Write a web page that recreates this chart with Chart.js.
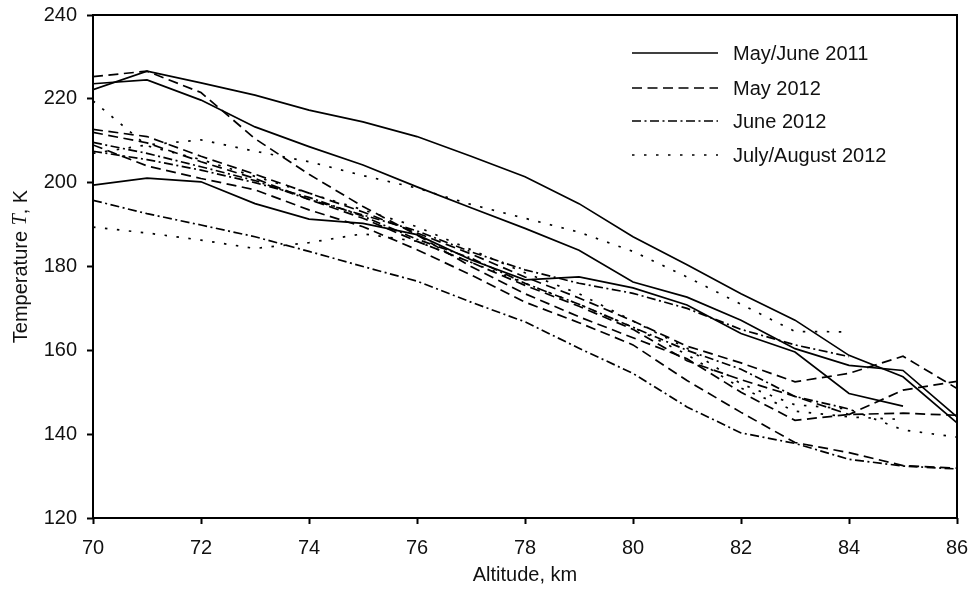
<!DOCTYPE html>
<html>
<head>
<meta charset="utf-8">
<script src="https://cdn.jsdelivr.net/npm/chart.js@4"></script>
<style>
  body { margin: 0; background: #fff; }
  canvas { display: block; }
</style>
</head>
<body>
<canvas id="tempChart" width="970" height="591"></canvas>
<script>
// altitude grid, km
const altitudes = [70, 71, 72, 73, 74, 75, 76, 77, 78, 79, 80, 81, 82, 83, 84, 85, 86];

// May/June 2011 (solid)
const mayJune2011a = [222.2, 226.6, 223.8, 220.9, 217.3, 214.5, 211.0, 206.3, 201.4, 195.0, 187.1, 180.4, 173.5, 167.2, 158.8, 153.7, 142.7];
const mayJune2011b = [223.6, 224.5, 219.7, 213.3, 208.6, 204.2, 199.0, 194.0, 189.1, 183.9, 176.3, 172.7, 167.2, 160.4, 156.4, 155.2, 144.1];
const mayJune2011c = [199.4, 201.1, 200.2, 195.0, 191.3, 190.3, 187.6, 181.6, 176.8, 177.5, 174.9, 170.8, 164.0, 159.6, 149.7, 146.7, null];

// May 2012 (dashed)
const may2012a = [225.3, 226.6, 221.5, 210.5, 202.0, 194.3, 187.5, 180.0, 173.5, 168.0, 163.0, 158.0, 150.0, 143.3, 144.7, 145.0, 144.5];
const may2012b = [212.7, 211.0, 206.3, 202.0, 197.5, 193.0, 188.0, 183.0, 177.5, 172.5, 167.0, 161.0, 157.0, 152.5, 154.5, 158.6, 150.9];
const may2012c = [212.0, 209.5, 205.0, 201.0, 196.0, 191.5, 186.0, 181.0, 175.5, 170.5, 165.0, 157.5, 153.0, 149.0, 144.7, 150.5, 152.6];
const may2012d = [209.0, 204.0, 201.0, 198.3, 193.5, 189.5, 184.0, 178.0, 171.5, 166.6, 161.3, 152.8, 145.2, 138.0, 135.6, 132.5, 131.9];

// June 2012 (dash-dot)
const june2012a = [209.6, 207.0, 203.8, 200.5, 196.0, 192.3, 188.5, 183.5, 179.2, 176.0, 173.6, 170.0, 165.0, 161.3, 158.5, null, null];
const june2012b = [207.5, 205.5, 203.0, 200.0, 196.5, 192.0, 186.5, 182.0, 176.0, 171.0, 165.5, 160.0, 155.5, 149.0, 146.0, null, null];
const june2012c = [195.8, 192.6, 189.9, 187.1, 183.6, 180.0, 176.5, 171.5, 166.8, 160.5, 154.5, 146.5, 140.3, 137.8, 134.0, 132.4, 131.7];

// July/August 2012 (dotted)
const julyAug2012a = [207.0, 209.0, 210.2, 207.5, 205.0, 201.7, 198.7, 194.8, 191.5, 188.2, 183.6, 177.5, 171.0, 164.5, 164.4, null, null];
const julyAug2012b = [219.5, 208.8, 205.5, 201.5, 197.5, 193.5, 189.5, 184.0, 178.5, 173.5, 167.0, 160.5, 152.0, 147.0, 146.0, 141.0, 139.3];
const julyAug2012c = [189.4, 188.0, 186.3, 184.3, 185.7, 187.8, 186.0, 181.0, 176.0, 171.0, 165.5, 159.0, 151.0, 145.5, 144.1, 143.5, null];

const xTicks = [70, 72, 74, 76, 78, 80, 82, 84, 86];
const yTicks = [120, 140, 160, 180, 200, 220, 240];

const groups = [
    { label: 'May/June 2011', dash: [], series: [mayJune2011a, mayJune2011b, mayJune2011c] },
    { label: 'May 2012', dash: [10, 5.5], series: [may2012a, may2012b, may2012c, may2012d] },
    { label: 'June 2012', dash: [9, 3.5, 2, 3.5], series: [june2012a, june2012b, june2012c] },
    { label: 'July/August 2012', dash: [2.5, 9.5], series: [julyAug2012a, julyAug2012b, julyAug2012c] },
];

const FONT = "'Liberation Sans', Arial, sans-serif";
const INK = '#111';

const datasets = [];
groups.forEach(g => {
    g.series.forEach(vals => {
        datasets.push({
            label: g.label,
            data: altitudes.map((a, i) => ({ x: a, y: vals[i] })),
            borderColor: '#000',
            borderWidth: 1.7,
            borderDash: g.dash,
            pointRadius: 0,
            tension: 0,
            fill: false,
            spanGaps: false,
        });
    });
});

// frame, legend and y title drawn by hand
const extras = {
    id: 'extras',
    afterDraw(chart) {
        const ctx = chart.ctx;
        const a = chart.chartArea;
        ctx.save();
        ctx.strokeStyle = '#000';
        ctx.lineWidth = 2;
        ctx.setLineDash([]);
        ctx.strokeRect(a.left, a.top, a.right - a.left, a.bottom - a.top);

        // legend
        const rows = [53, 88, 121, 155];
        ctx.font = '20px ' + FONT;
        ctx.textBaseline = 'middle';
        ctx.fillStyle = INK;
        groups.forEach((g, i) => {
            ctx.beginPath();
            ctx.lineWidth = 1.7;
            ctx.setLineDash(g.dash);
            ctx.moveTo(632, rows[i]);
            ctx.lineTo(718, rows[i]);
            ctx.stroke();
            ctx.fillText(g.label, 733, rows[i] + 1);
        });
        ctx.setLineDash([]);

        // y axis title with italic T
        const parts = [
            ['Temperature ', '20px ' + FONT],
            ['T', 'italic 20px "Liberation Serif", serif'],
            [', K', '20px ' + FONT],
        ];
        let total = 0;
        parts.forEach(p => { ctx.font = p[1]; total += ctx.measureText(p[0]).width; });
        ctx.translate(21, (a.top + a.bottom) / 2);
        ctx.rotate(-Math.PI / 2);
        let x = -total / 2;
        parts.forEach(p => {
            ctx.font = p[1];
            ctx.fillText(p[0], x, 0);
            x += ctx.measureText(p[0]).width;
        });
        ctx.restore();
    }
};

const ctx = document.getElementById('tempChart').getContext('2d');
new Chart(ctx, {
    type: 'line',
    data: { datasets: datasets },
    options: {
        responsive: false,
        animation: false,
        devicePixelRatio: 1,
        layout: { padding: { left: 0, top: 15, right: 13, bottom: 0 } },
        plugins: {
            legend: { display: false },
            tooltip: { enabled: false },
        },
        scales: {
            x: {
                type: 'linear',
                min: 70,
                max: 86,
                afterFit: s => { s.height = 73; s.paddingLeft = 0; s.paddingRight = 0; },
                afterBuildTicks: s => { s.ticks = xTicks.map(v => ({ value: v })); },
                grid: { drawOnChartArea: false, drawTicks: true, tickLength: 6, tickWidth: 2, tickColor: '#000' },
                border: { display: false },
                ticks: { color: INK, font: { family: FONT, size: 20 }, padding: 12, maxRotation: 0 },
                title: { display: true, text: 'Altitude, km', color: INK, font: { family: FONT, size: 20 }, padding: { top: 0, bottom: 4 } },
            },
            y: {
                type: 'linear',
                min: 120,
                max: 240,
                afterFit: s => { s.width = 93; s.paddingTop = 0; s.paddingBottom = 0; },
                afterBuildTicks: s => { s.ticks = yTicks.map(v => ({ value: v })); },
                grid: { drawOnChartArea: false, drawTicks: true, tickLength: 6, tickWidth: 2, tickColor: '#000' },
                border: { display: false },
                ticks: { color: INK, font: { family: FONT, size: 20 }, padding: 10 },
            },
        },
    },
    plugins: [extras],
});
</script>
</body>
</html>
